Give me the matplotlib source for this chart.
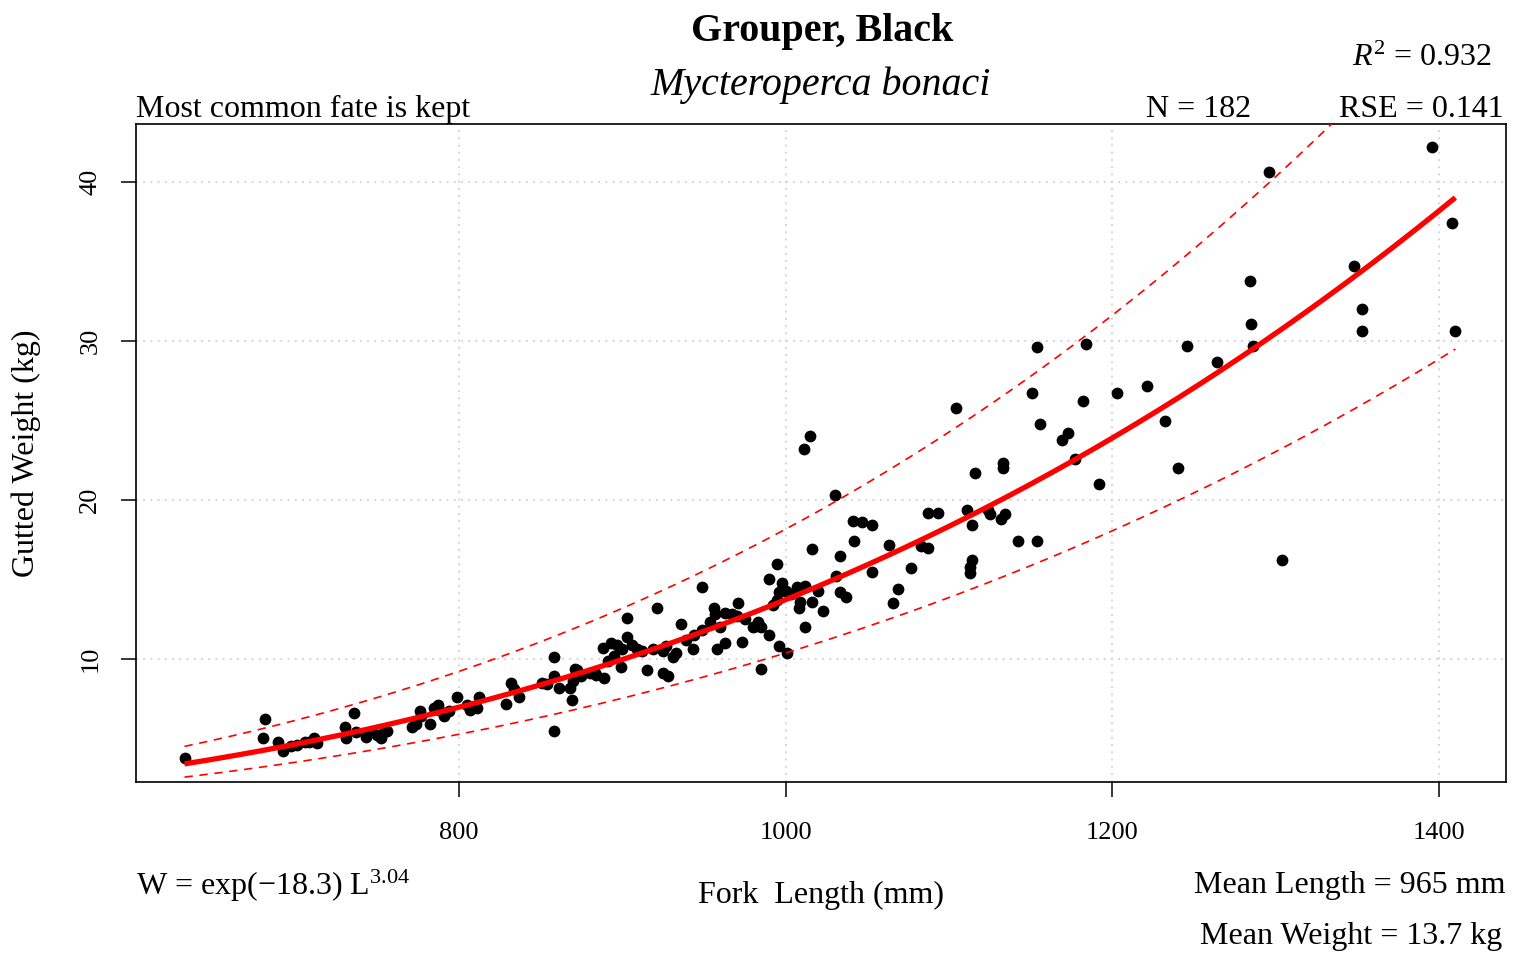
import numpy as np
import matplotlib
matplotlib.use("Agg")
import matplotlib.pyplot as plt

plt.rcParams['font.family'] = ['Liberation Serif', 'DejaVu Serif']
plt.rcParams['mathtext.fontset'] = 'custom'
plt.rcParams['mathtext.rm'] = 'Liberation Serif'
plt.rcParams['mathtext.it'] = 'Liberation Serif:italic'
plt.rcParams['mathtext.bf'] = 'Liberation Serif:bold'

# ---- data (fork length mm, gutted weight kg) ----
length_mm = [
    632, 681, 680, 689, 692, 701, 706, 711, 713, 730, 731, 736, 737, 697, 708,
    743, 747, 750, 752, 754, 756, 771, 774, 776, 777, 782, 785, 787, 788, 791,
    794, 799, 805, 807, 809, 811, 812, 829, 832, 834, 837, 851,
    858, 858, 854, 861, 868, 869, 871, 870, 872, 880, 884, 889, 888, 891, 893,
    897, 899, 900, 903, 903, 909, 915, 919, 921, 925, 927, 928, 931, 933, 936,
    943, 858, 875, 883, 895, 906, 912, 939, 944, 925,
    949, 956, 957, 958, 949, 954, 960, 963, 967, 970, 971, 973, 980, 983, 985,
    990, 985, 990, 992, 995, 998, 996, 1000, 996, 1001, 1007, 1008, 1012, 1012,
    1016, 1016, 1023, 1030, 1033, 1031, 1033, 1037, 1041, 1042, 1011, 1015,
    963, 975, 982, 995, 1003, 1009, 1020,
    1047, 1053, 1063, 1053, 1083, 1077, 1069, 1066, 1087, 1093, 1111, 1124,
    1114, 1132, 1142, 1114, 1113, 1113, 1104, 1116, 1133, 1133, 1087, 1125, 1134,
    1154, 1184, 1246, 1264, 1151, 1182, 1203, 1221, 1156, 1173, 1169, 1177,
    1232, 1240, 1192, 1154,
    1296, 1396, 1408, 1284, 1348, 1285, 1286, 1353, 1353, 1410, 1304,
]
weight_kg = [
    3.8, 6.2, 5.0, 4.8, 4.2, 4.6, 4.8, 5.0, 4.7, 5.7, 5.0, 6.6, 5.4, 4.5, 4.8,
    5.1, 5.4, 5.2, 5.0, 5.4, 5.5, 5.7, 5.9, 6.7, 6.4, 5.9, 6.9, 7.1, 6.8, 6.4,
    6.7, 7.6, 7.1, 6.8, 7.0, 6.9, 7.6, 7.2, 8.5, 8.1, 7.6, 8.5,
    10.1, 8.9, 8.4, 8.2, 8.2, 7.4, 9.4, 8.6, 9.3, 9.1, 9.0, 8.8, 10.7, 9.9, 11.0,
    10.9, 9.5, 10.6, 12.6, 11.4, 10.6, 9.3, 10.6, 13.2, 9.1, 10.8, 8.9, 10.1, 10.4, 12.2,
    10.6, 5.5, 8.9, 9.1, 10.2, 10.9, 10.5, 11.2, 11.5, 10.5,
    14.5, 13.2, 12.8, 10.6, 11.8, 12.3, 12.0, 11.0, 12.8, 12.7, 13.5, 11.1, 12.0, 12.3, 12.0,
    11.5, 9.4, 15.0, 13.4, 16.0, 14.8, 14.2, 14.3, 10.8, 10.4, 14.5, 13.2, 14.6, 12.0,
    13.6, 16.9, 13.0, 20.3, 16.5, 15.2, 14.2, 13.9, 18.7, 17.4, 23.2, 24.0,
    12.9, 12.5, 12.1, 13.7, 14.1, 13.6, 14.3,
    18.6, 18.4, 17.2, 15.5, 17.1, 15.7, 14.4, 13.5, 19.2, 19.2, 19.4, 19.4,
    18.4, 18.8, 17.4, 16.2, 15.8, 15.4, 25.8, 21.7, 22.3, 22.0, 17.0, 19.1, 19.1,
    29.6, 29.8, 29.7, 28.7, 26.7, 26.2, 26.7, 27.2, 24.8, 24.2, 23.8, 22.6,
    25.0, 22.0, 21.0, 17.4,
    40.6, 42.2, 37.4, 33.8, 34.7, 31.1, 29.7, 32.0, 30.6, 30.6, 16.2,
]

# fitted length-weight model  W = exp(a) * L^b, with multiplicative prediction band
log_a = -18.38
b_exp = 3.04
band_log = 0.28

x_ticks = [800, 1000, 1200, 1400]
y_ticks = [10, 20, 30, 40]

W, H = 1525, 956
fig = plt.figure(figsize=(W / 100, H / 100), dpi=100)
ax = fig.add_axes([136 / W, 1 - 782 / H, (1506 - 136) / W, (782 - 124) / H])

L = np.array(length_mm, dtype=float)
Wt = np.array(weight_kg, dtype=float)

ax.scatter(L, Wt, s=72, color='black', linewidths=0, zorder=3)

lx = np.linspace(L.min(), L.max(), 300)
fit = np.exp(log_a) * lx ** b_exp
ax.plot(lx, fit, color='#ff0000', lw=3.8, zorder=4, solid_capstyle='butt')
ax.plot(lx, fit * np.exp(band_log), color='#ff0000', lw=1.2, ls=(0, (5, 4)), zorder=4)
ax.plot(lx, fit * np.exp(-band_log), color='#ff0000', lw=1.2, ls=(0, (5, 4)), zorder=4)

ax.set_xlim(602.3, 1441.0)
ax.set_ylim(2.264, 43.648)
ax.set_xticks(x_ticks)
ax.set_yticks(y_ticks)
ax.set_xticklabels([str(v) for v in x_ticks])
ax.set_yticklabels([str(v) for v in y_ticks], rotation=90, va='center')
ax.tick_params(axis='both', direction='out', length=11, width=1.1, labelsize=19)
ax.tick_params(axis='x', pad=18)
ax.tick_params(axis='y', pad=14)
ax.grid(True, color='#d0d0d0', linestyle=(0, (1, 3)), linewidth=1.3, zorder=0)
ax.set_axisbelow(True)
for sp in ax.spines.values():
    sp.set_linewidth(1.2)
    sp.set_color('black')


def ft(x, y, s, **kw):
    fig.text(x / W, 1 - y / H, s, va='baseline', **kw)


ft(822, 41, 'Grouper, Black', ha='center', fontsize=28.8, fontweight='bold')
ft(821, 95, 'Mycteroperca bonaci', ha='center', fontsize=28.8, fontstyle='italic')
ft(1492, 66, r'$R^2$ = 0.932', ha='right', fontsize=23)
ft(136, 117, 'Most common fate is kept', ha='left', fontsize=23)
ft(1251, 117, 'N = 182', ha='right', fontsize=23)
ft(1504, 117, 'RSE = 0.141', ha='right', fontsize=23)
ft(136, 895, 'W = exp(\u221218.3) L$^{3.04}$', ha='left', fontsize=23)
ft(821, 903, 'Fork  Length (mm)', ha='center', fontsize=23)
ft(1505, 893, 'Mean Length = 965 mm', ha='right', fontsize=23)
ft(1502, 944, 'Mean Weight = 13.7 kg', ha='right', fontsize=23)
fig.text(26 / W, 1 - 453 / H, 'Gutted Weight (kg)', rotation=90, ha='center', va='center', fontsize=23)

fig.savefig('out.png', dpi=100)
